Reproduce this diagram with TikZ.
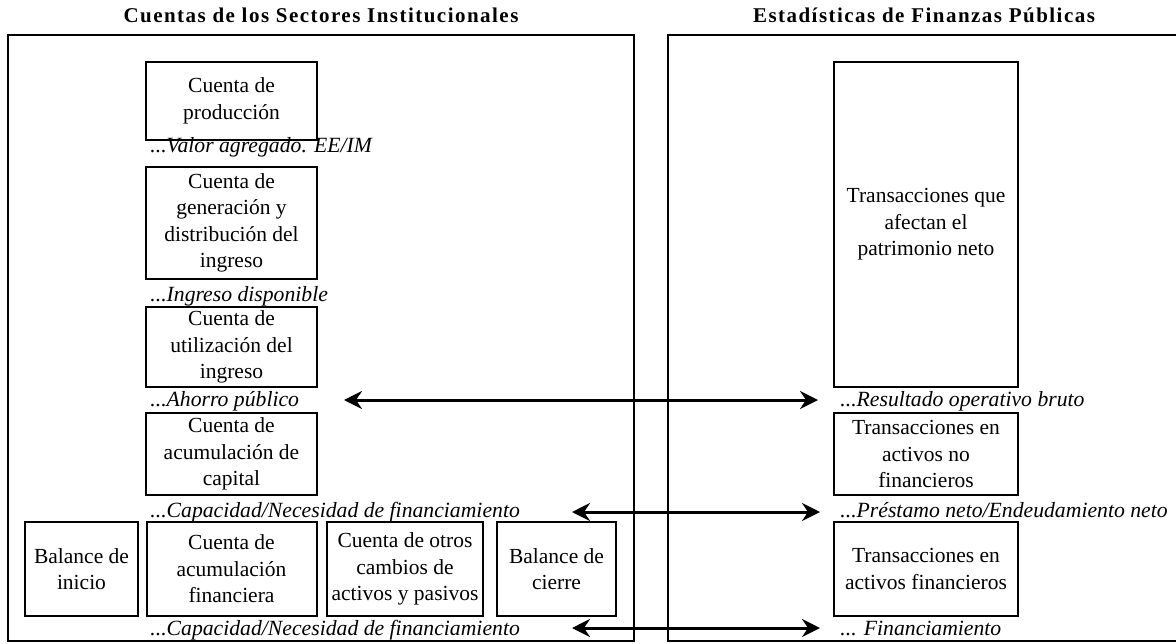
\documentclass[tikz,border=0pt]{standalone}
\usepackage{fontspec}
\setmainfont{Liberation Serif}
\newfontfamily\titlefont[LetterSpace=7]{Liberation Serif}
\usetikzlibrary{arrows.meta}
\begin{document}
\begin{tikzpicture}[x=0.5pt,y=-0.5pt,
  frame/.style={draw, line width=1pt},
  acct/.style={draw, line width=1pt, rectangle, inner sep=0pt, align=center,
    font=\fontsize{10.75pt}{13.25pt}\selectfont},
  bal/.style={font=\fontsize{10.85pt}{13pt}\selectfont\itshape, anchor=base west, inner sep=0pt},
  ttl/.style={font=\fontsize{10.5pt}{12pt}\selectfont\titlefont\bfseries, anchor=base, inner sep=0pt},
  link/.style={line width=1.5pt,
    {Stealth[length=9pt,width=9pt,inset=3pt]}-{Stealth[length=9pt,width=9pt,inset=3pt]}}
]
\useasboundingbox (0,0) rectangle (1176,643);
% titles
\node[ttl] (t1) at (321,22) {Cuentas de los Sectores Institucionales};
\node[ttl] (t2) at (924,22) {Estadísticas de Finanzas Públicas};
% frames
\draw[frame] (8,35) rectangle (634,641);
\draw[frame] (668,35) rectangle (1184,641);
% left column
\node[acct, minimum width=85.5pt, minimum height=39pt] (b1) at (231.5,101) {Cuenta de\\producción};
\node[acct, minimum width=85.5pt, minimum height=56pt] (b2) at (231.5,223) {Cuenta de\\generación y\\distribución del\\ingreso};
\node[acct, minimum width=85.5pt, minimum height=40pt] (b3) at (231.5,347) {Cuenta de\\utilización del\\ingreso};
\node[acct, minimum width=85.5pt, minimum height=41pt] (b4) at (231.5,454) {Cuenta de\\acumulación de\\capital};
% bottom row
\node[acct, minimum width=56.5pt, minimum height=47pt] (bi) at (81.5,569) {Balance de\\inicio};
\node[acct, minimum width=85pt, minimum height=47pt] (bf) at (231.5,569) {Cuenta de\\acumulación\\financiera};
\node[acct, minimum width=78pt, minimum height=47pt] (bo) at (405,569) {Cuenta de otros\\cambios de\\activos y pasivos};
\node[acct, minimum width=59.5pt, minimum height=47pt] (bc) at (556.5,569) {Balance de\\cierre};
% right column
\node[acct, minimum width=92pt, minimum height=162.5pt] (r1) at (926,224.5) {Transacciones que\\afectan el\\patrimonio neto};
\node[acct, minimum width=92pt, minimum height=41pt] (r2) at (926,454) {Transacciones en\\activos no\\financieros};
\node[acct, minimum width=92pt, minimum height=47pt] (r3) at (926,569) {Transacciones en\\activos financieros};
% balancing items
\node[bal] (l1) at (150,152) {...Valor agregado. EE/IM};
\node[bal] (l2) at (150,301) {...Ingreso disponible};
\node[bal] (l3) at (150,406) {...Ahorro público};
\node[bal] (l4) at (150,517) {...Capacidad/Necesidad de financiamiento};
\node[bal] (l5) at (150,635) {...Capacidad/Necesidad de financiamiento};
\node[bal] (q1) at (840,406) {...Resultado operativo bruto};
\node[bal] (q2) at (840,517) {...Préstamo neto/Endeudamiento neto};
\node[bal] (q3) at (840,635) {... Financiamiento};
% arrow ends
\coordinate (a1l) at (344,400);
\coordinate (a1r) at (818,400);
\coordinate (a2l) at (572,512);
\coordinate (a2r) at (820,512);
\coordinate (a3l) at (572,628);
\coordinate (a3r) at (820,628);
\draw[link] (a1l) -- (a1r);
\draw[link] (a2l) -- (a2r);
\draw[link] (a3l) -- (a3r);
\end{tikzpicture}
\end{document}
